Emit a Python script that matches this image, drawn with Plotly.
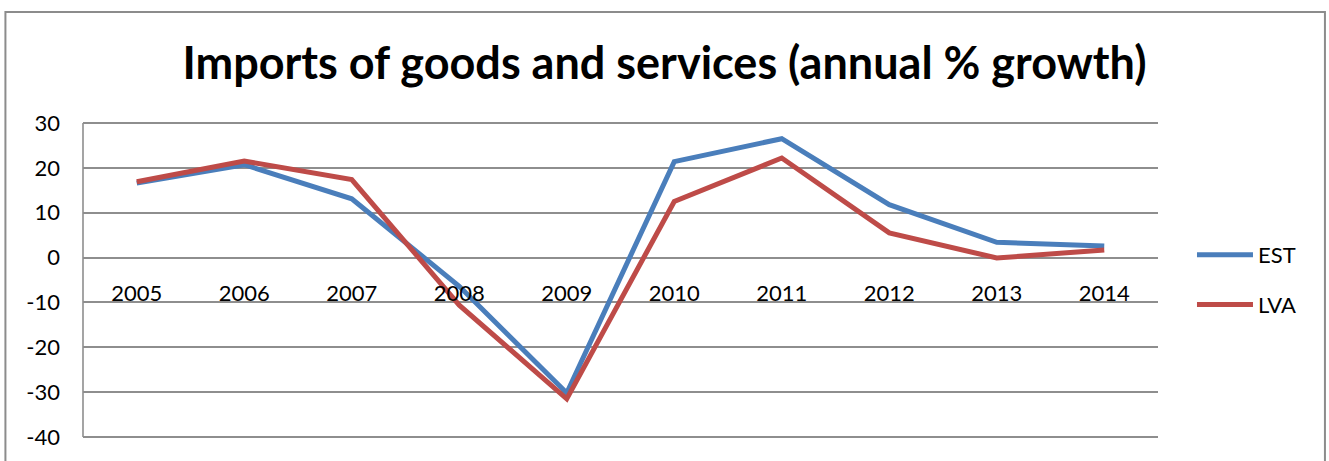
import plotly.graph_objects as go

years = ["2005", "2006", "2007", "2008", "2009", "2010", "2011", "2012", "2013", "2014"]
est = [16.6, 20.7, 13.1, -6.4, -30.2, 21.4, 26.5, 11.8, 3.4, 2.6]
lva = [16.9, 21.5, 17.4, -10.6, -31.5, 12.5, 22.2, 5.5, -0.1, 1.7]
y_ticks = [-40, -30, -20, -10, 0, 10, 20, 30]
y_ticktext = [str(v) for v in y_ticks]

W, H = 1329, 461
PXU = 314 / 70.0            # pixels per unit
pad = 0.45                  # small range padding so edge gridlines are drawn
L, R = 82.6, 1158
T = 123 - pad * PXU
B = 437 + pad * PXU

FONT = "Lato"
BLUE = "#4A7EBB"
RED = "#BE4B48"
GRID = "#8E8E8E"

fig = go.Figure()
fig.add_trace(go.Scatter(x=years, y=est, mode="lines", name="EST",
                         line=dict(color=BLUE, width=5), legendgroup="a"))
fig.add_trace(go.Scatter(x=years, y=lva, mode="lines", name="LVA",
                         line=dict(color=RED, width=5), legendgroup="b"))

pw = R - L
ph = B - T
ymin, ymax = -40 - pad, 30 + pad
zero_frac = (0 - ymin) / (ymax - ymin)

fig.update_layout(
    width=W, height=H,
    margin=dict(l=L, r=W - R, t=T, b=H - B, pad=0, autoexpand=False),
    paper_bgcolor="white", plot_bgcolor="white",
    title=dict(text="<b>Imports of goods and services (annual % growth)</b>",
               x=0.5, xref="container", xanchor="center",
               y=1 - 63 / H, yref="container", yanchor="middle",
               font=dict(family=FONT, size=45, color="black")),
    xaxis=dict(type="category", showgrid=False, showline=False, zeroline=False,
               anchor="free", position=zero_frac, ticks="",
               ticklabelstandoff=20,
               tickfont=dict(family=FONT, size=22, color="black"),
               range=[-0.5, 9.5]),
    yaxis=dict(range=[ymin, ymax], tickvals=y_ticks, ticktext=y_ticktext,
               showgrid=True, gridcolor=GRID,
               gridwidth=1.6, zeroline=False, showline=False,
               ticks="", ticklabelstandoff=22,
               tickfont=dict(family=FONT, size=22, color="black")),
    legend=dict(x=(1192 - L) / pw, xanchor="left", y=(B - 280) / ph, yanchor="middle",
                font=dict(family=FONT, size=22, color="black"),
                tracegroupgap=18, bgcolor="rgba(0,0,0,0)", itemwidth=56),
    showlegend=True,
)

# left vertical axis line spanning exactly 30 .. -40
fig.add_shape(type="line", xref="paper", yref="y", x0=0, x1=0, y0=-40, y1=30,
              line=dict(color=GRID, width=1.6), layer="below")

# outer chart border
fig.add_shape(type="rect", xref="paper", yref="paper",
              x0=(5 - L) / pw, x1=(1325 - L) / pw,
              y0=(B - 470) / ph, y1=(B - 12) / ph,
              line=dict(color="#8C8C8C", width=2), fillcolor="rgba(0,0,0,0)", layer="below")

fig.write_html("out.html", config={"displayModeBar": False},
               post_script="document.body.style.margin='0';document.body.style.overflow='hidden';")
